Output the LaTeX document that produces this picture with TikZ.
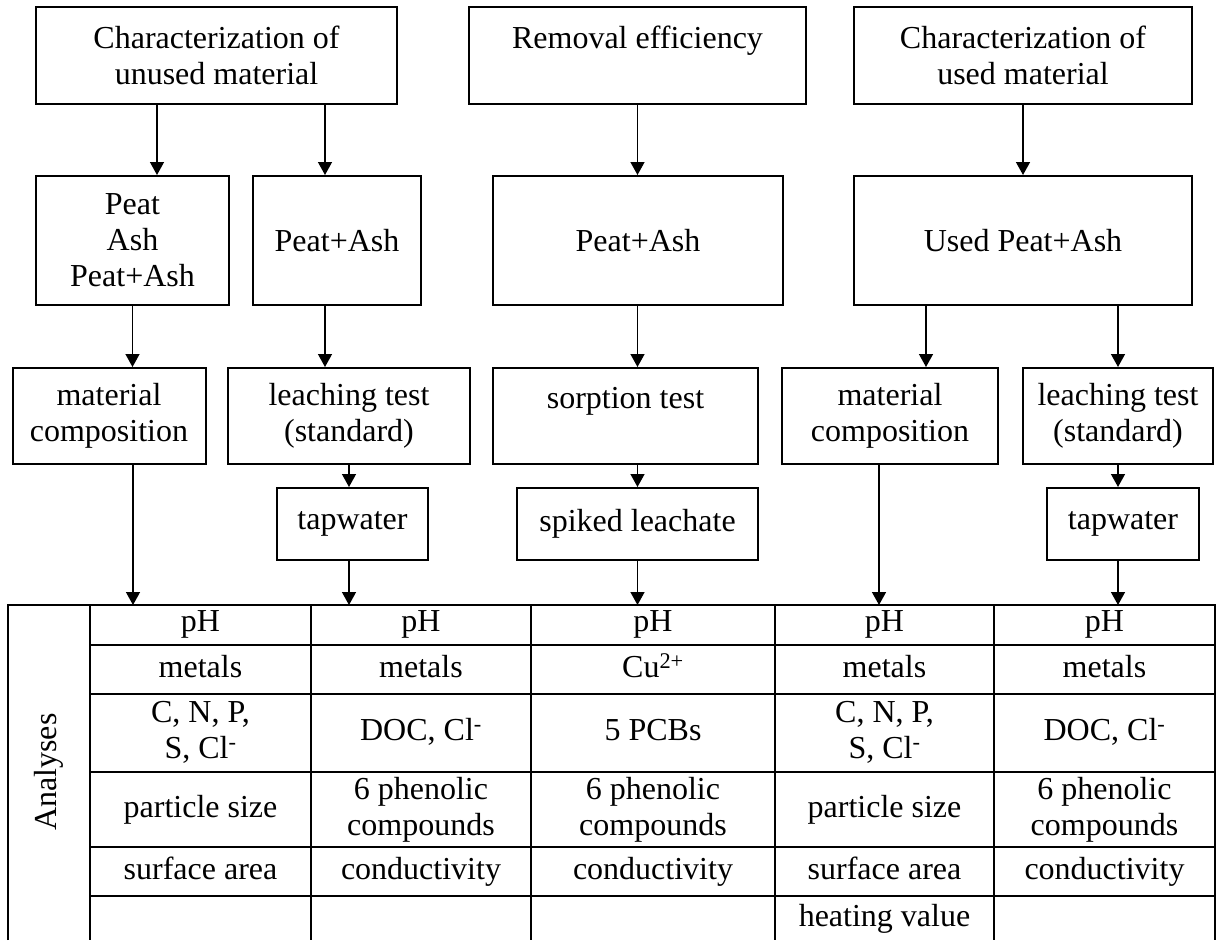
\documentclass[tikz,border=0pt]{standalone}
\usepackage{fontspec}
\setmainfont{Liberation Serif}
\usetikzlibrary{arrows.meta}
\tikzset{
  %% ── Boxes ────────────────────────────────────────────────────────────
  %% One plain box for every step; the size is fixed per node.
  boite/.style   = {draw=black, line width=2pt, align=center, inner sep=2pt,
                    font=\fontsize{32}{36}\selectfont},
  %%
  %% ── Table ────────────────────────────────────────────────────────────
  %% Fixed depth, so that cells of one row share a baseline.
  cellule/.style = {align=center, inner sep=0pt, text depth=7pt,
                    font=\fontsize{32}{36}\selectfont},
  grille/.style  = {draw=black, line width=2pt},
  %%
  %% ── Arrows ───────────────────────────────────────────────────────────
  fleche/.style  = {-{Triangle[length=13pt, width=14pt]}, draw=black,
                    line width=1.4pt},
}

\begin{document}
\begin{tikzpicture}[x=1pt, y=-1pt]

\useasboundingbox (0,0) rectangle (1218,940);

%% what is studied
\node[boite, minimum width=361, minimum height=97] (car1) at (216.5, 55.5)
     {Characterization of\\unused material};
\node[boite, minimum width=337, minimum height=97] (rem) at (637.5, 55.5)
     {Removal efficiency\\\mbox{}};
\node[boite, minimum width=338, minimum height=97] (car2) at (1023, 55.5)
     {Characterization of\\used material};

%% material
\node[boite, minimum width=193, minimum height=129] (mat1) at (132.5, 240.5)
     {Peat\\Ash\\Peat+Ash};
\node[boite, minimum width=168, minimum height=129] (mat2) at (337, 240.5)
     {Peat+Ash};
\node[boite, minimum width=290, minimum height=129] (mat3) at (638, 240.5)
     {Peat+Ash};
\node[boite, minimum width=338, minimum height=129] (mat4) at (1023, 240.5)
     {Used Peat+Ash};

%% tests
\node[boite, minimum width=193, minimum height=96] (comp1) at (109, 416)
     {material\\composition};
\node[boite, minimum width=242, minimum height=96] (lea1) at (349, 416)
     {leaching test\\(standard)};
\node[boite, minimum width=265, minimum height=96] (sorp) at (625.5, 416)
     {sorption test\\\mbox{}};
\node[boite, minimum width=216, minimum height=96] (comp2) at (890, 416)
     {material\\composition};
\node[boite, minimum width=190, minimum height=96] (lea2) at (1118, 416)
     {leaching test\\(standard)};

%% liquids
\node[boite, minimum width=151, minimum height=72] (tap1) at (352.5, 524)
     {tapwater};
\node[boite, minimum width=241, minimum height=72] (spik) at (637.5, 524)
     {spiked leachate};
\node[boite, minimum width=152, minimum height=72] (tap2) at (1123, 524)
     {tapwater};

%% table of analyses
\coordinate (in1) at (133, 605);
\coordinate (in2) at (349, 605);
\coordinate (in3) at (637.5, 605);
\coordinate (in4) at (879, 605);
\coordinate (in5) at (1118, 605);

\draw[grille] (8, 940) -- (8, 605) -- (1215, 605) -- (1215, 940);
\foreach \x in {90, 311, 531, 775, 994}
  \draw[grille] (\x, 605) -- (\x, 940);
\foreach \y in {645, 694, 772, 847, 896}
  \draw[grille] (90, \y) -- (1215, \y);

\node[cellule, rotate=90] (ana) at (49, 772) {Analyses};

\node[cellule] (ph1) at (200.5, 625) {pH};
\node[cellule] (ph2) at (421, 625) {pH};
\node[cellule] (ph3) at (653, 625) {pH};
\node[cellule] (ph4) at (884.5, 625) {pH};
\node[cellule] (ph5) at (1104.5, 625) {pH};

\node[cellule] (met1) at (200.5, 669.5) {metals};
\node[cellule] (met2) at (421, 669.5) {metals};
\node[cellule] (met3) at (653, 669.5) {Cu\textsuperscript{2+}};
\node[cellule] (met4) at (884.5, 669.5) {metals};
\node[cellule] (met5) at (1104.5, 669.5) {metals};

\node[cellule] (chm1) at (200.5, 733) {C, N, P,\\S, Cl\textsuperscript{-}};
\node[cellule] (chm2) at (421, 733) {DOC, Cl\textsuperscript{-}};
\node[cellule] (chm3) at (653, 733) {5 PCBs};
\node[cellule] (chm4) at (884.5, 733) {C, N, P,\\S, Cl\textsuperscript{-}};
\node[cellule] (chm5) at (1104.5, 733) {DOC, Cl\textsuperscript{-}};

\node[cellule] (org1) at (200.5, 809.5) {particle size};
\node[cellule] (org2) at (421, 809.5) {6 phenolic\\compounds};
\node[cellule] (org3) at (653, 809.5) {6 phenolic\\compounds};
\node[cellule] (org4) at (884.5, 809.5) {particle size};
\node[cellule] (org5) at (1104.5, 809.5) {6 phenolic\\compounds};

\node[cellule] (sur1) at (200.5, 871.5) {surface area};
\node[cellule] (sur2) at (421, 871.5) {conductivity};
\node[cellule] (sur3) at (653, 871.5) {conductivity};
\node[cellule] (sur4) at (884.5, 871.5) {surface area};
\node[cellule] (sur5) at (1104.5, 871.5) {conductivity};

\node[cellule] (heat) at (884.5, 919) {heating value};

%% arrows
\draw[fleche] ([xshift=24.5]mat1.north |- car1.south) -- ([xshift=24.5]mat1.north);
\draw[fleche] ([xshift=-12]mat2.north |- car1.south) -- ([xshift=-12]mat2.north);
\draw[fleche] (rem.south) -- (rem.south |- mat3.north);
\draw[fleche] (car2.south) -- (mat4.north);

\draw[fleche] (mat1.south) -- (mat1.south |- comp1.north);
\draw[fleche] ([xshift=-12]mat2.south) -- ([xshift=-12]mat2.south |- lea1.north);
\draw[fleche] (rem.south |- mat3.south) -- (rem.south |- sorp.north);
\draw[fleche] ([xshift=-97]mat4.south) -- ([xshift=-97]mat4.south |- comp2.north);
\draw[fleche] (lea2.north |- mat4.south) -- (lea2.north);

\draw[fleche] (lea1.south) -- (lea1.south |- tap1.north);
\draw[fleche] (spik.north |- sorp.south) -- (spik.north);
\draw[fleche] (lea2.south) -- (lea2.south |- tap2.north);

\draw[fleche] (comp1.south -| in1) -- (in1);
\draw[fleche] (tap1.south -| in2) -- (in2);
\draw[fleche] (spik.south -| in3) -- (in3);
\draw[fleche] (comp2.south -| in4) -- (in4);
\draw[fleche] (tap2.south -| in5) -- (in5);

\end{tikzpicture}
\end{document}
